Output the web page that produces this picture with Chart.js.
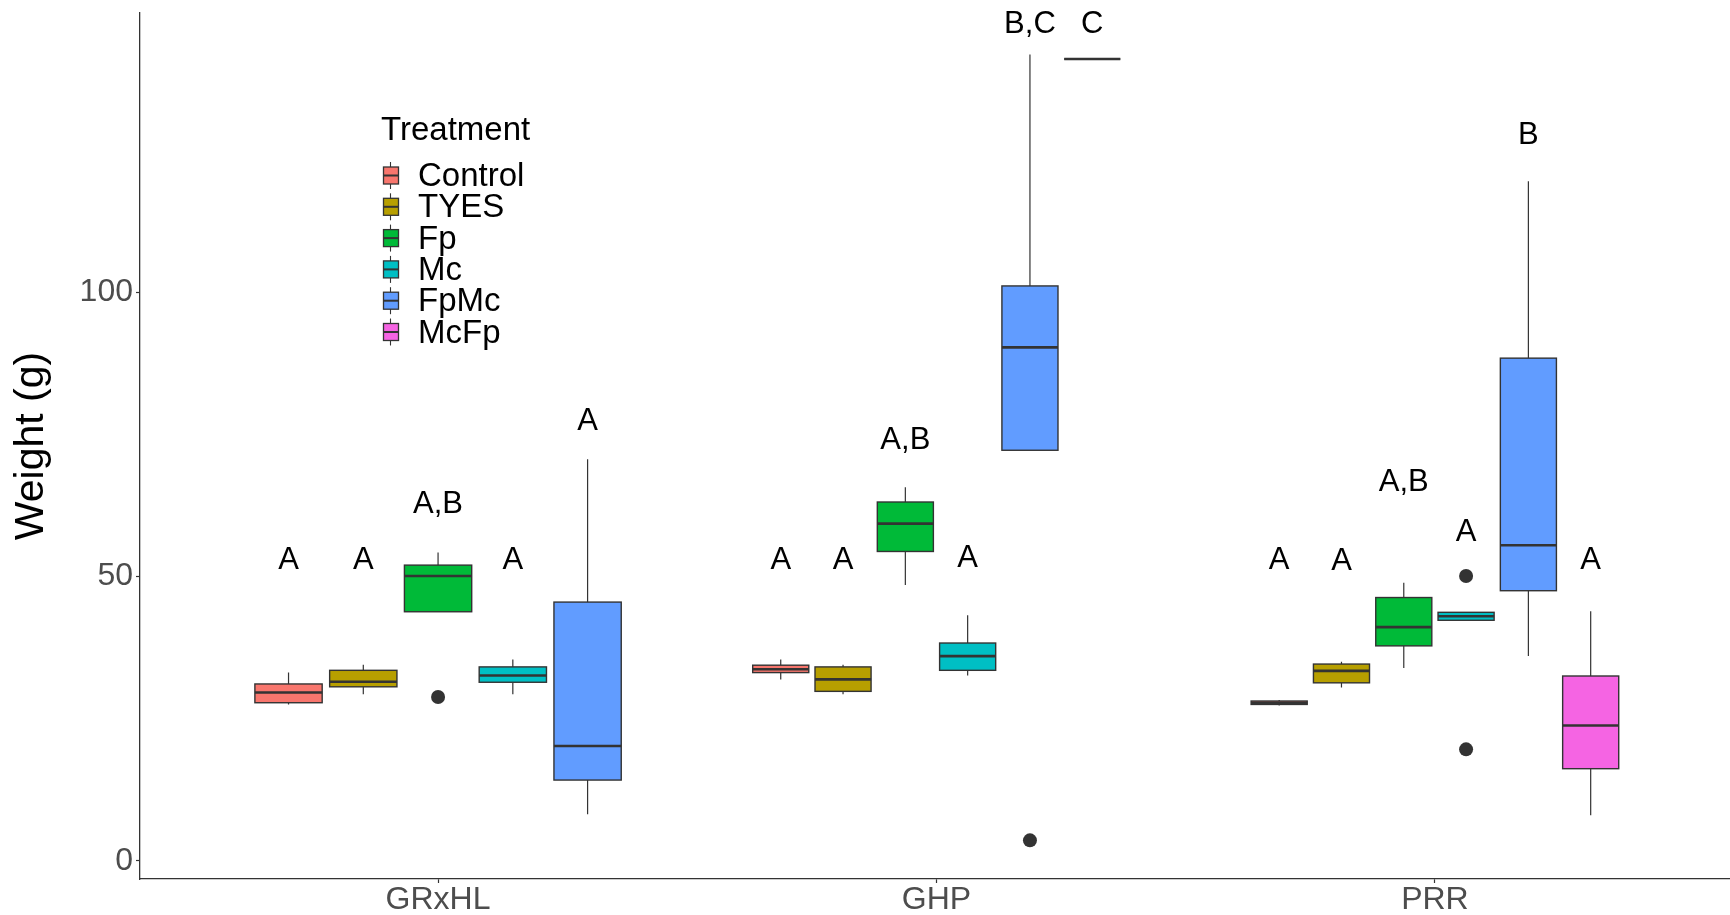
<!DOCTYPE html>
<html lang="en">
<head>
<meta charset="UTF-8">
<title>Weight by treatment</title>
<script src="https://cdn.jsdelivr.net/npm/chart.js"></script>
<style>
  html, body { margin: 0; padding: 0; background: #ffffff; }
  .grafico { width: 1730px; height: 915px; position: relative; }
</style>
</head>
<body>
<div class="grafico"><canvas id="caixas"></canvas></div>
<script>
const sites = ['GRxHL', 'GHP', 'PRR'];
const treatments = ['Control', 'TYES', 'Fp', 'Mc', 'FpMc', 'McFp'];
const fillColors = ['#F8766D', '#B79F00', '#00BA38', '#00BFC4', '#619CFF', '#F564E3'];
const yTicks = [0, 50, 100];

// [lower whisker, Q1, median, Q3, upper whisker] for GRxHL, GHP, PRR
const controlStats = [[27.5, 27.8, 29.6, 31.1, 33.1], [31.9, 33.1, 33.7, 34.4, 35.4], [27.3, 27.5, 27.8, 28.1, 28.3]];
const tyesStats = [[29.3, 30.6, 31.5, 33.5, 34.5], [29.3, 29.8, 31.9, 34.1, 34.5], [30.5, 31.3, 33.4, 34.6, 35.0]];
const fpStats = [[43.8, 43.8, 50.1, 52.0, 54.2], [48.5, 54.4, 59.3, 63.1, 65.7], [33.9, 37.8, 41.1, 46.3, 48.9]];
const mcStats = [[29.3, 31.4, 32.6, 34.1, 35.4], [32.6, 33.5, 36.0, 38.3, 43.2], [42.3, 42.3, 43.0, 43.7, 43.7]];
const fpmcStats = [[8.2, 14.2, 20.2, 45.5, 70.6], [72.2, 72.2, 90.3, 101.1, 141.8], [36.0, 47.5, 55.5, 88.4, 119.5]];
const mcfpStats = [null, [141, 141, 141, 141, 141], [8.0, 16.2, 23.8, 32.5, 43.9]];

// outliers: [site, treatment, value]
const outliers = [[0, 2, 28.8], [1, 4, 3.6], [2, 3, 50.1], [2, 3, 19.6]];

// significance letters: [text, y] per treatment
const lettersGRxHL = [['A', 52.8], ['A', 52.8], ['A,B', 62.7], ['A', 52.8], ['A', 77.2], null];
const lettersGHP = [['A', 52.8], ['A', 52.8], ['A,B', 73.9], ['A', 53.1], ['B,C', 147], ['C', 147]];
const lettersPRR = [['A', 52.8], ['A', 52.6], ['A,B', 66.5], ['A', 57.7], ['B', 127.5], ['A', 52.8]];

const allStats = [controlStats, tyesStats, fpStats, mcStats, fpmcStats, mcfpStats];
const allLetters = [lettersGRxHL, lettersGHP, lettersPRR];
const fonte = 'Liberation Sans, Arial, sans-serif';
const escuro = '#333333';

// dodge like ggplot: 0.75 shared between the boxes present at a site
function slots(s) {
    const present = allStats.map((st, t) => st[s] ? t : -1).filter(t => t >= 0);
    const w = 0.75 / present.length;
    return present.map((t, k) => ({ t: t, x: s + 1 + (k - (present.length - 1) / 2) * w, w: w * 0.9 }));
}

const boxes = [];
sites.forEach((nome, s) => slots(s).forEach(b => boxes.push({ site: s, t: b.t, x: b.x, w: b.w, stats: allStats[b.t][s] })));

function slotX(s, t) {
    return slots(s).find(b => b.t === t).x;
}

const outlierPoints = outliers.map(o => ({ x: slotX(o[0], o[1]), y: o[2] }));

function semPadding(scale) {
    scale.paddingTop = 0;
    scale.paddingBottom = 0;
    scale.paddingLeft = 0;
    scale.paddingRight = 0;
}

const boxPlugin = {
    id: 'boxes',
    beforeDatasetsDraw(chart) {
        const { ctx, scales: { x, y } } = chart;
        ctx.save();
        boxes.forEach(b => {
            const [lo, q1, med, q3, hi] = b.stats;
            const cx = x.getPixelForValue(b.x);
            const xl = x.getPixelForValue(b.x - b.w / 2);
            const xr = x.getPixelForValue(b.x + b.w / 2);
            ctx.strokeStyle = escuro;
            ctx.lineWidth = 1.2;
            ctx.beginPath();
            ctx.moveTo(cx, y.getPixelForValue(hi));
            ctx.lineTo(cx, y.getPixelForValue(q3));
            ctx.moveTo(cx, y.getPixelForValue(q1));
            ctx.lineTo(cx, y.getPixelForValue(lo));
            ctx.stroke();
            const top = y.getPixelForValue(q3);
            const bot = y.getPixelForValue(q1);
            ctx.fillStyle = fillColors[b.t];
            ctx.fillRect(xl, top, xr - xl, bot - top);
            ctx.lineWidth = 1.4;
            ctx.strokeRect(xl, top, xr - xl, bot - top);
            ctx.lineWidth = 2.6;
            ctx.beginPath();
            ctx.moveTo(xl, y.getPixelForValue(med));
            ctx.lineTo(xr, y.getPixelForValue(med));
            ctx.stroke();
        });
        // letters
        ctx.fillStyle = '#000000';
        ctx.font = '31px ' + fonte;
        ctx.textAlign = 'center';
        ctx.textBaseline = 'middle';
        allLetters.forEach((lista, s) => {
            lista.forEach((l, t) => {
                if (!l) return;
                ctx.fillText(l[0], x.getPixelForValue(slotX(s, t)), y.getPixelForValue(l[1]));
            });
        });
        ctx.restore();
    },
    afterDraw(chart) {
        const ctx = chart.ctx;
        ctx.save();
        ctx.fillStyle = '#000000';
        ctx.textAlign = 'left';
        ctx.textBaseline = 'middle';
        ctx.font = '33px ' + fonte;
        ctx.fillText('Treatment', 381, 131);
        treatments.forEach((nome, i) => {
            const cy = 175.5 + i * 31.3;
            ctx.strokeStyle = escuro;
            ctx.lineWidth = 1.1;
            ctx.beginPath();
            ctx.moveTo(390.5, cy - 13.5);
            ctx.lineTo(390.5, cy + 13.5);
            ctx.stroke();
            ctx.fillStyle = fillColors[i];
            ctx.fillRect(383.5, cy - 8.5, 15, 17);
            ctx.lineWidth = 1.3;
            ctx.strokeRect(383.5, cy - 8.5, 15, 17);
            ctx.lineWidth = 2;
            ctx.beginPath();
            ctx.moveTo(383.5, cy);
            ctx.lineTo(398.5, cy);
            ctx.stroke();
            ctx.fillStyle = '#000000';
            ctx.fillText(nome, 418, cy + 1.5);
        });
        ctx.restore();
    }
};

new Chart(document.getElementById('caixas'), {
    type: 'scatter',
    data: {
        datasets: [{
            label: 'outliers',
            data: outlierPoints,
            pointRadius: 7,
            pointBackgroundColor: escuro,
            pointBorderWidth: 0
        }]
    },
    options: {
        responsive: true,
        maintainAspectRatio: false,
        animation: false,
        events: [],
        layout: { autoPadding: false, padding: { top: 13, right: 0, left: 0, bottom: 0 } },
        plugins: {
            legend: { display: false },
            tooltip: { enabled: false }
        },
        scales: {
            x: {
                type: 'linear',
                min: 0.402,
                max: 3.592,
                afterBuildTicks: scale => { scale.ticks = sites.map((n, i) => ({ value: i + 1 })); },
                afterFit: scale => { scale.height = 36; semPadding(scale); },
                ticks: {
                    callback: value => sites[value - 1],
                    color: '#4D4D4D',
                    font: { family: fonte, size: 32 },
                    padding: -2,
                    maxRotation: 0
                },
                grid: { display: true, drawOnChartArea: false, drawTicks: true, tickLength: 4, tickColor: escuro, tickWidth: 1.2 },
                border: { display: true, color: escuro, width: 1.3 }
            },
            y: {
                min: -3.2,
                max: 149.1,
                afterBuildTicks: scale => { scale.ticks = yTicks.map(v => ({ value: v })); },
                afterFit: scale => { scale.width = 140; semPadding(scale); },
                ticks: {
                    color: '#4D4D4D',
                    font: { family: fonte, size: 32 },
                    padding: 3
                },
                title: {
                    display: true,
                    text: 'Weight (g)',
                    color: '#000000',
                    font: { family: fonte, size: 41 },
                    padding: { top: 7, bottom: 0 }
                },
                grid: { display: true, drawOnChartArea: false, drawTicks: true, tickLength: 4, tickColor: escuro, tickWidth: 1.2 },
                border: { display: true, color: escuro, width: 1.3 }
            }
        }
    },
    plugins: [boxPlugin]
});
</script>
</body>
</html>
